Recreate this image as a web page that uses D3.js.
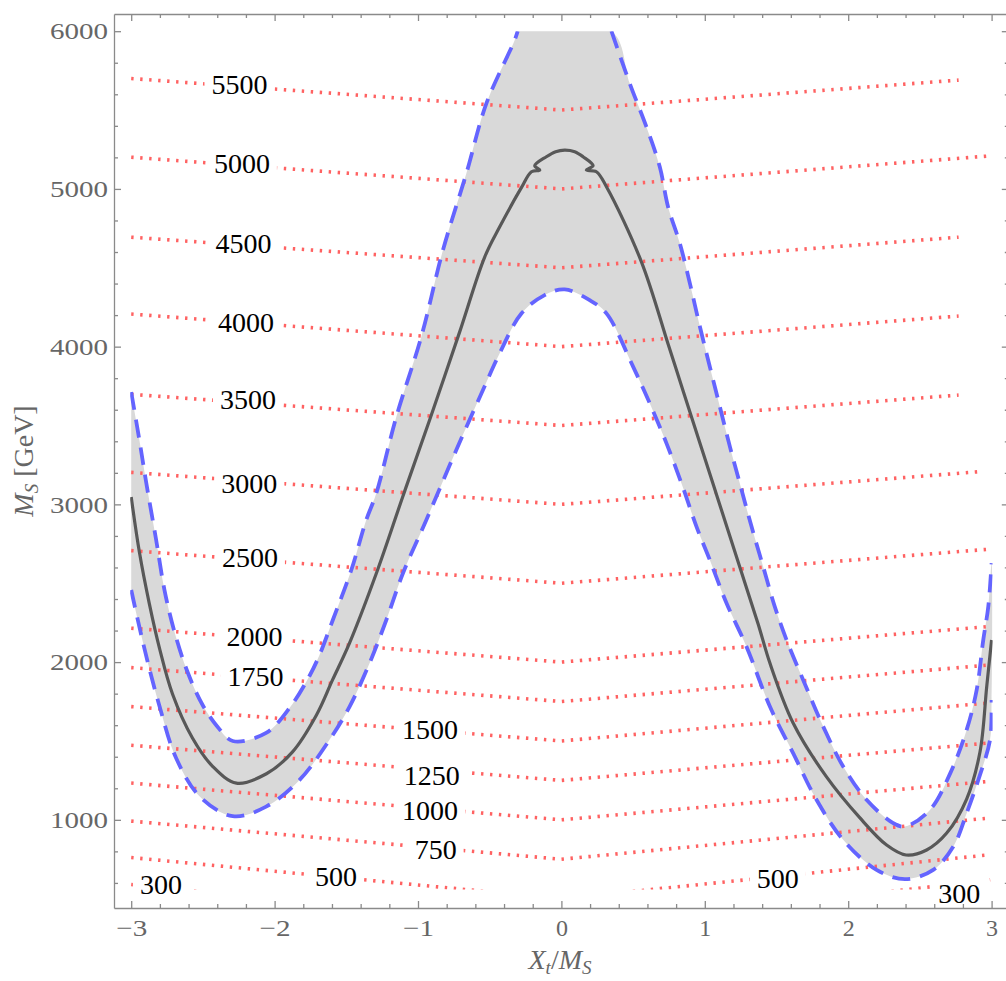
<!DOCTYPE html>
<html><head><meta charset="utf-8">
<script src="https://cdn.jsdelivr.net/npm/d3@7"></script>
<style>
body{margin:0;background:#fff;}
svg{display:block;}
</style></head><body>
<svg id="chart" width="1006" height="981"></svg>
<script>
// ---------------- data ----------------
const xDomain = [-3.12, 3.12];
const yDomain = [441, 6109];
const dataXRange = [-3, 3];
const dataYRange = [558, 6000];

const xMajorTicks = [-3, -2, -1, 0, 1, 2, 3];
const xMinorTicks = [-2.8, -2.6, -2.4, -2.2, -1.8, -1.6, -1.4, -1.2, -0.8, -0.6, -0.4, -0.2,
                     0.2, 0.4, 0.6, 0.8, 1.2, 1.4, 1.6, 1.8, 2.2, 2.4, 2.6, 2.8];
const yMajorTicks = [1000, 2000, 3000, 4000, 5000, 6000];
const yMinorTicks = [600, 800, 1200, 1400, 1600, 1800, 2200, 2400, 2600, 2800, 3200, 3400, 3600, 3800,
                     4200, 4400, 4600, 4800, 5200, 5400, 5600, 5800];

// central curve [Xt/MS, MS]
const centralCurve = [
  [-3.000, 3047], [-2.943, 2698], [-2.873, 2368], [-2.803, 2089], [-2.712, 1798], [-2.573, 1519],
  [-2.434, 1341], [-2.266, 1233], [-2.057, 1292], [-1.875, 1431], [-1.708, 1665], [-1.596, 1887],
  [-1.477, 2122], [-1.282, 2584], [-1.107, 3047], [-0.919, 3535], [-0.710, 4092], [-0.535, 4568],
  [-0.431, 4758], [-0.277, 5011], [-0.209, 5109], [-0.151, 5120], [-0.186, 5147], [-0.105, 5204],
  [-0.040, 5236], [0.023, 5246], [0.093, 5236], [0.151, 5204], [0.221, 5147], [0.174, 5120],
  [0.244, 5109], [0.316, 5011], [0.558, 4538], [0.744, 4017], [0.849, 3719], [1.058, 3129],
  [1.244, 2603], [1.372, 2242], [1.454, 1994], [1.616, 1614], [1.849, 1272],
  [2.082, 1012], [2.268, 840], [2.403, 777], [2.547, 809], [2.687, 916], [2.826, 1132],
  [2.919, 1430], [2.966, 1845], [3.000, 2140]
];

// upper bound (left part, up to the 6000 cut) and right part
const upperLeft = [
  [-3.000, 3712], [-2.943, 3408], [-2.896, 3142], [-2.826, 2774], [-2.768, 2457], [-2.698, 2191],
  [-2.607, 1937], [-2.502, 1728], [-2.397, 1589], [-2.292, 1500], [-2.059, 1551], [-1.896, 1709],
  [-1.757, 1912], [-1.687, 2045], [-1.594, 2267], [-1.465, 2584], [-1.361, 2901], [-1.291, 3070],
  [-1.151, 3556], [-0.977, 4063], [-0.826, 4612], [-0.663, 5098], [-0.523, 5542], [-0.326, 5943],
  [-0.305, 6000]
];
const upperRight = [
  [0.349, 6000], [0.477, 5668], [0.593, 5393], [0.686, 5140], [0.744, 4886], [0.826, 4654],
  [0.896, 4401], [0.966, 4126], [1.035, 3873], [1.105, 3619], [1.175, 3366], [1.244, 3134],
  [1.326, 2859], [1.407, 2605], [1.488, 2352], [1.570, 2141], [1.686, 1887], [1.826, 1591],
  [1.965, 1338], [2.128, 1127], [2.314, 979], [2.396, 958], [2.570, 1063], [2.712, 1296],
  [2.826, 1570], [2.896, 1824], [2.942, 2141], [2.977, 2352], [3.000, 2627]
];
// lower bound
const lowerCurve = [
  [-3.000, 2457], [-2.943, 2223], [-2.885, 2001], [-2.803, 1722], [-2.687, 1392], [-2.524, 1150],
  [-2.292, 1023], [-2.059, 1084], [-1.826, 1253], [-1.617, 1507], [-1.477, 1718], [-1.338, 1993],
  [-1.221, 2267], [-1.105, 2563], [-0.942, 2901], [-0.733, 3345], [-0.547, 3725], [-0.431, 3957],
  [-0.279, 4210], [-0.117, 4327], [0.023, 4363], [0.197, 4295], [0.314, 4211], [0.500, 3873],
  [0.616, 3641], [0.733, 3387], [0.849, 3104], [0.942, 2859], [1.035, 2648], [1.151, 2375],
  [1.291, 2098], [1.454, 1718], [1.616, 1423], [1.779, 1127], [1.965, 873], [2.198, 683],
  [2.396, 624], [2.593, 683], [2.733, 831], [2.826, 1042], [2.919, 1285], [2.989, 1507],
  [3.000, 1760]
];

// contour lines: value at Xt=-3, at Xt=0 (level), and at right end
const contourLevels = [300, 500, 750, 1000, 1250, 1500, 1750, 2000, 2500, 3000, 3500, 4000, 4500, 5000, 5500];
const contourAtLeft = [590, 761, 992, 1233, 1473, 1718, 1965, 2215, 2707, 3203, 3698, 4207, 4694, 5201, 5700];
const contourEndX   = [2.99, 2.98, 2.98, 2.97, 2.97, 2.98, 2.99, 2.97, 2.97, 2.91, 2.77, 2.77, 2.77, 2.97, 2.77];
const contourAtEnd  = [620, 778, 1011, 1243, 1486, 1741, 1982, 2225, 2715, 3207, 3693, 4194, 4694, 5208, 5690];

// contour labels
const labelText = ["5500", "5000", "4500", "4000", "3500", "3000", "2500", "2000", "1750",
                   "1500", "1250", "1000", "750", "500", "300", "500", "300"];
const labelX  = [-2.245, -2.228, -2.217, -2.200, -2.186, -2.176, -2.172, -2.140, -2.133,
                 -0.916, -0.905, -0.916, -0.877, -1.572, -2.793, 1.509, 2.774];
const labelMS = [5659, 5164, 4657, 4156, 3662, 3135, 2666, 2165, 1906,
                 1570, 1284, 1062, 809, 638, 587, 625, 536];

// ---------------- drawing ----------------
const svg = d3.select("#chart");
const serif = "'Liberation Serif','Times New Roman',Times,serif";
const x = d3.scaleLinear().domain(xDomain).range([114, 1008.8]);
const y = d3.scaleLinear().domain(yDomain).range([908, 14]);

const defs = svg.append("defs");
defs.append("clipPath").attr("id", "clipData").append("rect")
  .attr("x", x(dataXRange[0]) - 1).attr("y", y(dataYRange[1]))
  .attr("width", x(dataXRange[1]) - x(dataXRange[0]) + 2)
  .attr("height", y(dataYRange[0]) - y(dataYRange[1]));

const gBand = svg.append("g").attr("clip-path", "url(#clipData)");
const gCont = svg.append("g").attr("clip-path", "url(#clipData)");
const gContInner = gCont.append("g").attr("mask", "url(#labelMask)");
const gCurves = svg.append("g").attr("clip-path", "url(#clipData)");
const gLabels = svg.append("g");

const line = d3.line().x(d => x(d[0])).y(d => y(d[1]));
const smooth = d3.line().x(d => x(d[0])).y(d => y(d[1])).curve(d3.curveCatmullRom.alpha(0.5));

// band
const bandPts = upperLeft.concat(upperRight).concat(lowerCurve.slice().reverse());
gBand.append("path").attr("d", smooth(bandPts) + "Z")
  .attr("fill", "#d9d9d9").attr("stroke", "none");

// contours
contourLevels.forEach((lv, i) => {
  const pts = [[-3, contourAtLeft[i]], [0, lv], [contourEndX[i], contourAtEnd[i]]];
  gContInner.append("path").attr("d", line(pts))
    .attr("fill", "none").attr("stroke", "#ff6262").attr("stroke-width", 3.6)
    .attr("stroke-dasharray", "2.4,6.6");
});

// bounds (dashed) and central
[lowerCurve, upperLeft, upperRight].forEach(arr => {
  gCurves.append("path").attr("d", smooth(arr))
    .attr("fill", "none").attr("stroke", "#6464ff").attr("stroke-width", 3.8)
    .attr("stroke-dasharray", "18,10");
});
gCurves.append("path").attr("d", smooth(centralCurve))
  .attr("fill", "none").attr("stroke", "#585858").attr("stroke-width", 3.2);

// labels
labelText.forEach((t, i) => {
  gLabels.append("text").attr("x", x(labelX[i])).attr("y", y(labelMS[i]))
    .attr("text-anchor", "middle").attr("dominant-baseline", "central")
    .style("font-family", serif).style("font-size", "28px").attr("fill", "#000")
    .text(t);
});

// mask for label gaps
const mask = defs.append("mask").attr("id", "labelMask").attr("maskUnits", "userSpaceOnUse")
  .attr("x", 0).attr("y", 0).attr("width", 1006).attr("height", 981);
mask.append("rect").attr("x", 0).attr("y", 0).attr("width", 1006).attr("height", 981).attr("fill", "#fff");
gLabels.selectAll("text").each(function () {
  const b = this.getBBox();
  const cy = b.y + b.height / 2;
  mask.append("rect").attr("x", b.x - 7).attr("y", cy - 17).attr("width", b.width + 14).attr("height", 34)
    .attr("fill", "#000");
});

// axes
const axisColor = "#8a8a8a";
function styleAxis(g) {
  g.selectAll("path,line").attr("stroke", axisColor).attr("stroke-width", 1.3);
  g.selectAll("text").attr("fill", "#666").style("font-family", serif).style("font-size", "24px");
}
const fmt = d3.format("d");
// bottom
svg.append("g").attr("transform", "translate(0,908)")
  .call(d3.axisBottom(x).tickValues(xMajorTicks).tickSize(-7).tickSizeOuter(0).tickPadding(11).tickFormat(fmt))
  .call(styleAxis)
  .call(g => g.selectAll("text").filter(d => d < 0).attr("textLength", 31).attr("lengthAdjust", "spacingAndGlyphs"));
svg.append("g").attr("transform", "translate(0,908)")
  .call(d3.axisBottom(x).tickValues(xMinorTicks).tickSize(-4).tickSizeOuter(0).tickFormat(""))
  .call(styleAxis).call(g => g.select(".domain").remove());
// top
svg.append("g").attr("transform", "translate(0,14)")
  .call(d3.axisTop(x).tickValues(xMajorTicks).tickSize(-7).tickSizeOuter(0).tickFormat(""))
  .call(styleAxis);
svg.append("g").attr("transform", "translate(0,14)")
  .call(d3.axisTop(x).tickValues(xMinorTicks).tickSize(-4).tickSizeOuter(0).tickFormat(""))
  .call(styleAxis).call(g => g.select(".domain").remove());
// left
svg.append("g").attr("transform", "translate(114,0)")
  .call(d3.axisLeft(y).tickValues(yMajorTicks).tickSize(-7).tickSizeOuter(0).tickPadding(6).tickFormat(fmt))
  .call(styleAxis)
  .call(g => g.selectAll("text").attr("textLength", 58).attr("lengthAdjust", "spacingAndGlyphs"));
svg.append("g").attr("transform", "translate(114,0)")
  .call(d3.axisLeft(y).tickValues(yMinorTicks).tickSize(-4).tickSizeOuter(0).tickFormat(""))
  .call(styleAxis).call(g => g.select(".domain").remove());
// right
svg.append("g").attr("transform", "translate(1008.8,0)")
  .call(d3.axisRight(y).tickValues(yMajorTicks).tickSize(-7).tickSizeOuter(0).tickFormat(""))
  .call(styleAxis);
svg.append("g").attr("transform", "translate(1008.8,0)")
  .call(d3.axisRight(y).tickValues(yMinorTicks).tickSize(-4).tickSizeOuter(0).tickFormat(""))
  .call(styleAxis).call(g => g.select(".domain").remove());

// axis titles
const xt = svg.append("text").attr("x", 560).attr("y", 969).attr("text-anchor", "middle")
  .style("font-family", serif).style("font-size", "28px").attr("fill", "#666");
xt.append("tspan").attr("font-style", "italic").text("X");
xt.append("tspan").attr("font-style", "italic").attr("font-size", "19px").attr("dy", 5).text("t");
xt.append("tspan").attr("dy", -5).text("/");
xt.append("tspan").attr("font-style", "italic").text("M");
xt.append("tspan").attr("font-style", "italic").attr("font-size", "19px").attr("dy", 5).text("S");

const ytl = svg.append("text").attr("transform", "translate(33,461) rotate(-90)").attr("text-anchor", "middle")
  .style("font-family", serif).style("font-size", "28px").attr("fill", "#666");
ytl.append("tspan").attr("font-style", "italic").text("M");
ytl.append("tspan").attr("font-style", "italic").attr("font-size", "19px").attr("dy", 5).text("S");
ytl.append("tspan").attr("dy", -5).text(" [GeV]");
</script>
</body></html>
